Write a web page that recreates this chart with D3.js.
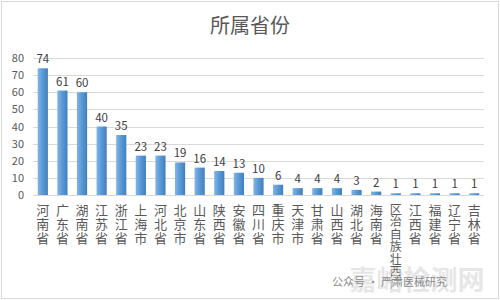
<!DOCTYPE html>
<html>
<head>
<meta charset="utf-8">
<script src="https://cdn.jsdelivr.net/npm/d3@7"></script>
<style>
  body { margin: 0; background: #fff; }
  text { font-family: "Noto Sans CJK SC", "DejaVu Sans", sans-serif; }
</style>
</head>
<body>
<div class="container"></div>
<script>
// data
var provinces = ["河南省", "广东省", "湖南省", "江苏省", "浙江省", "上海市", "河北省", "北京市",
  "山东省", "陕西省", "安徽省", "四川省", "重庆市", "天津市", "甘肃省", "山西省", "湖北省",
  "海南省", "广西壮族自治区", "江西省", "福建省", "辽宁省", "吉林省"];
var counts = [74, 61, 60, 40, 35, 23, 23, 19, 16, 14, 13, 10, 6, 4, 4, 4, 3, 2, 1, 1, 1, 1, 1];
var yTicks = [0, 10, 20, 30, 40, 50, 60, 70, 80];

var width = 500, height = 300;
var svg = d3.select(".container").append("svg")
  .attr("width", width)
  .attr("height", height);

// chart border
svg.append("rect")
  .attr("x", 1.5).attr("y", 1.5)
  .attr("width", width - 3).attr("height", height - 3)
  .attr("fill", "#fff")
  .attr("stroke", "#d9d9d9");

// gradient for bars
var grad = svg.append("defs").append("linearGradient")
  .attr("id", "barGrad")
  .attr("x1", "0").attr("x2", "1").attr("y1", "0").attr("y2", "0");
grad.append("stop").attr("offset", "0%").attr("stop-color", "#83b5e6");
grad.append("stop").attr("offset", "45%").attr("stop-color", "#5b9bd5");
grad.append("stop").attr("offset", "100%").attr("stop-color", "#3f7fc2");

var x = d3.scaleBand()
  .domain(provinces)
  .range([33, 484])
  .paddingInner(0.48)
  .paddingOuter(0.24);

var y = d3.scaleLinear()
  .domain([0, 80])
  .range([195, 58]);

// title
svg.append("text")
  .attr("x", 250).attr("y", 33)
  .attr("text-anchor", "middle")
  .attr("font-size", 20)
  .attr("fill", "#595959")
  .text("所属省份");

// gridlines
svg.append("g")
  .selectAll("line")
  .data(yTicks)
  .join("line")
  .attr("x1", 33).attr("x2", 484)
  .attr("y1", d => Math.round(y(d)) + 0.5)
  .attr("y2", d => Math.round(y(d)) + 0.5)
  .attr("stroke", "#d9d9d9")
  .attr("stroke-width", 1);

// y axis labels
var yAxis = svg.append("g")
  .attr("transform", "translate(30,0)")
  .call(d3.axisLeft(y).tickValues(yTicks).tickSize(0).tickPadding(6));
yAxis.select(".domain").remove();
yAxis.selectAll("text")
  .attr("font-size", 11)
  .attr("fill", "#595959")
  .style("font-family", "\"Noto Sans CJK SC\", sans-serif");

// bars
svg.append("g")
  .selectAll("rect")
  .data(counts)
  .join("rect")
  .attr("x", (d, i) => x(provinces[i]))
  .attr("y", d => y(d))
  .attr("width", x.bandwidth())
  .attr("height", d => y(0) - y(d))
  .attr("fill", "url(#barGrad)");

// value labels
svg.append("g")
  .selectAll("text")
  .data(counts)
  .join("text")
  .attr("x", (d, i) => x(provinces[i]) + x.bandwidth() / 2)
  .attr("y", d => y(d) - 5)
  .attr("text-anchor", "middle")
  .attr("font-size", 11.5)
  .attr("fill", "#404040")
  .text(d => d);

// category labels, stacked characters
// the long one is stacked tighter and runs bottom-up, as in the picture
var cat = svg.append("g")
  .selectAll("text")
  .data(provinces)
  .join("text")
  .attr("text-anchor", "middle")
  .attr("font-size", d => d.length > 3 ? 12 : 13)
  .attr("fill", "#595959");
cat.each(function (p) {
  var cx = x(p) + x.bandwidth() / 2;
  var chars = Array.from(p);
  var long = chars.length > 3;
  d3.select(this).selectAll("tspan")
    .data(long ? chars.slice().reverse() : chars)
    .join("tspan")
    .attr("x", cx)
    .attr("y", (c, j) => long ? 214 + j * 12.4 : 215 + j * 14)
    .text(c => c);
});

// watermark
svg.append("text")
  .attr("x", 417).attr("y", 290)
  .attr("text-anchor", "middle")
  .attr("font-size", 27)
  .attr("font-weight", "bold")
  .attr("fill", "#d6d6d6")
  .attr("opacity", 0.6)
  .text("嘉峪检测网");
svg.append("text")
  .attr("x", 332).attr("y", 286)
  .attr("font-size", 11)
  .attr("fill", "#8c8c8c")
  .text("公众号 · 严肃医械研究");
</script>
</body>
</html>
